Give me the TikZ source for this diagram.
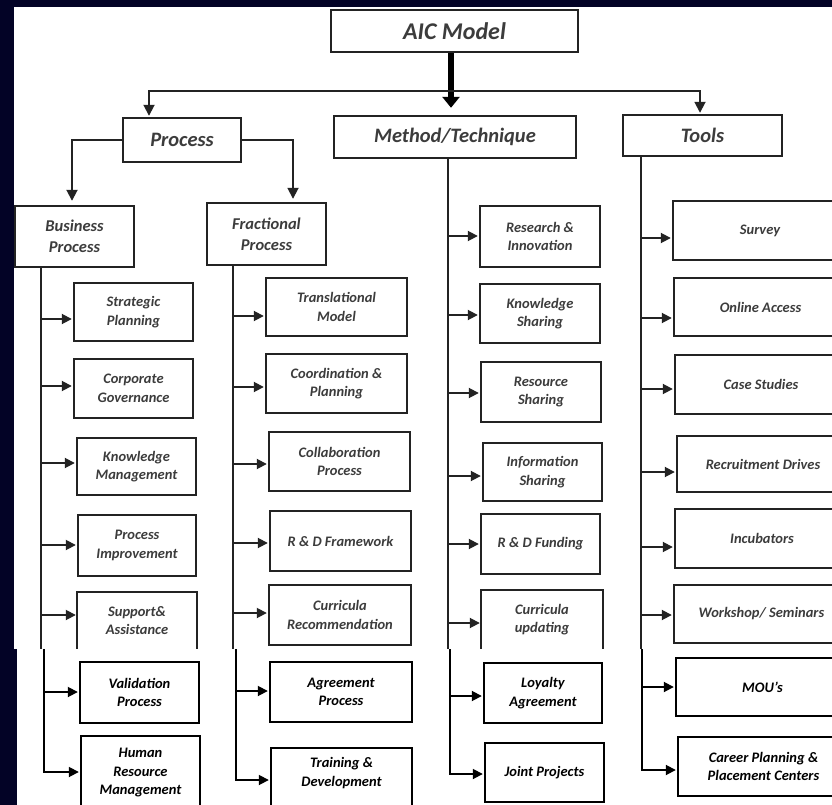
\documentclass[tikz,border=0pt]{standalone}
\usepackage{fontspec}
\setmainfont{Carlito}
\usetikzlibrary{arrows.meta,calc}
\definecolor{navy}{RGB}{3,3,38}
\definecolor{upink}{RGB}{35,35,35}
\definecolor{uptext}{RGB}{60,60,60}
\newcommand\mybox[7][]{%
  \node[box,#1,minimum width={(#5-#3-2)*1pt},minimum height={(#6-#4-2)*1pt}] (#2) at ({(#3+#5)/2},{(#4+#6)/2}) {#7};}
\newcommand\arrto[4][arr]{\draw[#1] (#2 |- 0,#4) -- (#3.west |- 0,#4);}
\begin{document}
\begin{tikzpicture}[x=1pt,y=-1pt,
  box/.style={draw=upink, line width=2.4pt, inner sep=1pt, align=center, text=uptext,
    font=\bfseries\itshape\fontsize{14.5}{18.5}\selectfont},
  lbox/.style={draw=black, text=black},
  midf/.style={font=\bfseries\itshape\fontsize{16.5}{21}\selectfont},
  topf/.style={font=\bfseries\itshape\fontsize{20.5}{24}\selectfont},
  aicf/.style={font=\bfseries\itshape\fontsize{24}{28}\selectfont},
  ln/.style={draw=upink, line width=1.8pt},
  lln/.style={draw=black, line width=1.8pt},
  arr/.style={ln, -{Triangle[length=10pt,width=10pt]}, shorten >=1pt},
  larr/.style={lln, -{Triangle[length=10pt,width=10pt]}, shorten >=1pt},
  bigarr/.style={draw=black, line width=6pt, -{Triangle[length=11pt,width=17pt]}},
  toparr/.style={ln, -{Triangle[length=11pt,width=11pt]}, shorten >=1pt},
  open/.style={draw=none},
  edge3/.style={draw=upink, line width=2.4pt},
]
\useasboundingbox (0,0) rectangle (832,805);
\fill[navy] (0,0) rectangle (832,805);
\fill[white] (14,7) rectangle (832,649);

% trunk x positions and helper coordinates
\coordinate (hub) at (451,91);
\coordinate (xp) at (149,0);
\coordinate (xt) at (700,0);
\coordinate (xbl) at (72,0);
\coordinate (xfr) at (293,0);
\coordinate (xb) at (41,0);
\coordinate (xf) at (233,0);
\coordinate (xm) at (448,0);
\coordinate (xo) at (641,0);
\coordinate (seam) at (0,649);

% ---------- upper part ----------
\mybox[aicf]{aic}{330}{9}{579}{53}{AIC Model}
\mybox[topf]{proc}{122}{117}{242}{163}{Process}
\mybox[topf]{meth}{333}{115}{577}{159}{Method/Technique}
\mybox[topf]{tools}{622}{114}{783}{157}{Tools}
\mybox[midf]{bp}{14}{205}{135}{268}{Business\\Process}
\mybox[midf]{fp}{206}{202}{327}{266}{Fractional\\Process}

\draw[bigarr, shorten >=7pt] (aic.south -| hub) -- (meth.north -| hub);
\draw[toparr] (hub) -| (proc.north -| xp);
\draw[toparr] (hub) -| (tools.north -| xt);
\draw[toparr, shorten >=4pt] (proc.west) -| (bp.north -| xbl);
\draw[toparr, shorten >=3pt] (proc.east) -| (fp.north -| xfr);

% business process children
\mybox{sp}{73}{282}{194}{342}{Strategic\\Planning}
\mybox{cg}{73}{358}{194}{419}{Corporate\\Governance}
\mybox{km}{76}{437}{197}{496}{Knowledge\\Management}
\mybox{pi}{77}{514}{197}{577}{Process\\Improvement}
\mybox[open]{sa}{77}{592}{197}{649}{Support\&\\Assistance}
\draw[edge3] (sa.south west) -- (sa.north west) -- (sa.north east) -- (sa.south east);
\draw[ln] (bp.south -| xb) -- (xb |- seam);
\arrto{xb}{sp}{319}
\arrto{xb}{cg}{386}
\arrto{xb}{km}{463}
\arrto{xb}{pi}{545}
\arrto{xb}{sa}{615}

% fractional process children
\mybox{tm}{265}{277}{408}{337}{Translational\\Model}
\mybox{cp}{265}{353}{408}{414}{Coordination \&\\Planning}
\mybox{clp}{268}{431}{411}{492}{Collaboration\\Process}
\mybox{rdf}{269}{510}{412}{572}{R \& D Framework}
\mybox{cr}{268}{584}{412}{646}{Curricula\\Recommendation}
\draw[ln] (fp.south -| xf) -- (xf |- seam);
\arrto{xf}{tm}{316}
\arrto{xf}{cp}{387}
\arrto{xf}{clp}{464}
\arrto{xf}{rdf}{543}
\arrto{xf}{cr}{613}

% method children
\mybox{ri}{479}{205}{601}{268}{Research \&\\Innovation}
\mybox{ks}{479}{283}{601}{344}{Knowledge\\Sharing}
\mybox{rs}{480}{361}{602}{423}{Resource\\Sharing}
\mybox{is}{482}{442}{603}{502}{Information\\Sharing}
\mybox{rdfu}{480}{513}{601}{575}{R \& D Funding}
\mybox[open]{cu}{481}{590}{603}{649}{Curricula\\updating}
\draw[edge3] (cu.south west) -- (cu.north west) -- (cu.north east) -- (cu.south east);
\draw[ln] (meth.south -| xm) -- (xm |- seam);
\arrto{xm}{ri}{236}
\arrto{xm}{ks}{315}
\arrto{xm}{rs}{393}
\arrto{xm}{is}{476}
\arrto{xm}{rdfu}{544}
\arrto{xm}{cu}{623}

% tools children
\mybox{sv}{672}{200}{848}{261}{Survey}
\mybox{oa}{673}{277}{848}{337}{Online Access}
\mybox{cs}{674}{354}{848}{415}{Case Studies}
\mybox{rd}{676}{435}{850}{493}{Recruitment Drives}
\mybox{inc}{674}{508}{850}{569}{Incubators}
\mybox{ws}{673}{584}{850}{644}{Workshop/ Seminars}
\draw[ln] (tools.south -| xo) -- (xo |- seam);
\arrto{xo}{sv}{238}
\arrto{xo}{oa}{318}
\arrto{xo}{cs}{389}
\arrto{xo}{rd}{472}
\arrto{xo}{inc}{547}
\arrto{xo}{ws}{615}

% ---------- lower part ----------
\fill[white] (17,649) rectangle (832,805);
\coordinate (xb2) at (44,0);
\coordinate (xf2) at (236,0);
\coordinate (xm2) at (450,0);
\coordinate (xo2) at (642,0);

\mybox[lbox]{vp}{79}{661}{200}{724}{Validation\\Process}
\mybox[lbox]{hr}{80}{735}{201}{811}{Human\\Resource\\Management}
\arrto[larr]{xb2}{vp}{692}
\draw[larr] (xb2 |- seam) |- (hr.west |- 0,772);

\mybox[lbox]{ap}{269}{661}{413}{723}{Agreement\\Process}
\mybox[lbox, text depth=15pt]{td}{270}{747}{413}{812}{Training \&\\Development}
\arrto[larr]{xf2}{ap}{691}
\draw[larr] (xf2 |- seam) |- (td.west |- 0,780);

\mybox[lbox]{la}{483}{662}{603}{724}{Loyalty\\Agreement}
\mybox[lbox]{jp}{484}{742}{605}{803}{Joint Projects}
\arrto[larr]{xm2}{la}{696}
\draw[larr] (xm2 |- seam) |- (jp.west |- 0,774);

\mybox[lbox]{mou}{675}{657}{850}{717}{MOU’s}
\mybox[lbox]{cpc}{677}{736}{850}{797}{Career Planning \&\\Placement Centers}
\arrto[larr]{xo2}{mou}{687}
\draw[larr] (xo2 |- seam) |- (cpc.west |- 0,770);
\end{tikzpicture}
\end{document}
